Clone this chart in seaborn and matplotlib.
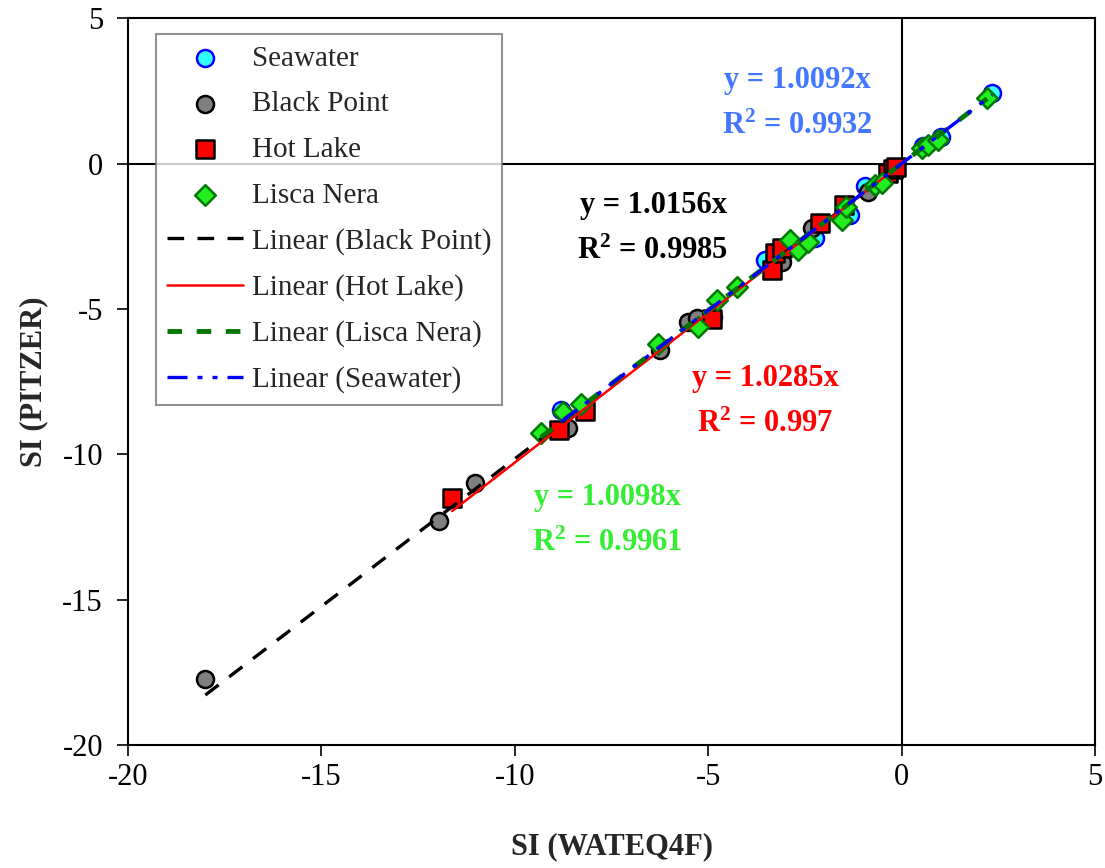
import matplotlib
matplotlib.use("Agg")
import matplotlib.pyplot as plt
import numpy as np
import pandas as pd
import seaborn as sns

# Saturation indices: WATEQ4F (x) vs PITZER (y)
seawater_x = [-8.80, -4.88, -3.53, -2.24, -1.33, -0.95, 0.55, 1.02, 2.34]
seawater_y = [-8.46, -5.28, -3.32, -2.57, -1.77, -0.78, 0.62, 0.91, 2.42]

blackpoint_x = [-18.00, -11.95, -11.03, -8.62, -6.25, -5.52, -5.30, -3.09, -2.32, -0.87]
blackpoint_y = [-17.73, -12.30, -11.00, -9.10, -6.42, -5.45, -5.30, -3.39, -2.22, -0.98]

hotlake_x = [-11.62, -8.85, -8.18, -4.90, -3.35, -3.27, -3.09, -2.11, -1.50, -0.35, -0.22, -0.15]
hotlake_y = [-11.50, -9.15, -8.50, -5.35, -3.67, -3.08, -2.90, -2.05, -1.43, -0.33, -0.20, -0.12]

lisca_x = [-9.33, -8.75, -8.30, -6.30, -5.26, -4.77, -4.26, -2.89, -2.68, -2.42,
           -1.54, -1.45, -0.70, -0.51, 0.53, 0.68, 0.94, 2.21]
lisca_y = [-9.27, -8.55, -8.27, -6.20, -5.63, -4.70, -4.25, -2.63, -2.98, -2.70,
           -1.95, -1.50, -0.75, -0.67, 0.53, 0.63, 0.80, 2.25]

# Trendline slopes (forced through origin) and R²
slopes = {"Black Point": 1.0156, "Hot Lake": 1.0285, "Lisca Nera": 1.0098, "Seawater": 1.0092}
r2 = {"Black Point": "0.9985", "Hot Lake": "0.997", "Lisca Nera": "0.9961", "Seawater": "0.9932"}

x_ticks = [-20, -15, -10, -5, 0, 5]
y_ticks = [-20, -15, -10, -5, 0, 5]

sns.set_theme(style="white")
plt.rcParams["font.family"] = ["Liberation Serif", "DejaVu Serif"]
plt.rcParams["axes.unicode_minus"] = False
plt.rcParams["mathtext.fontset"] = "custom"
plt.rcParams["mathtext.rm"] = "Liberation Serif"
plt.rcParams["mathtext.bf"] = "Liberation Serif:bold"

fig = plt.figure(figsize=(11.05, 8.68), dpi=100)
ax = fig.add_axes([0.1158, 0.1417, 0.991 - 0.1158, 0.979 - 0.1417])

series = [
    ("Seawater", seawater_x, seawater_y, "o", "#33ffff", "#0000ff"),
    ("Black Point", blackpoint_x, blackpoint_y, "o", "#808080", "#000000"),
    ("Hot Lake", hotlake_x, hotlake_y, "s", "#ff0000", "#000000"),
    ("Lisca Nera", lisca_x, lisca_y, "D", "#22ee22", "#007700"),
]

for name, xs, ys, mk, fc, ec in series:
    df = pd.DataFrame({"x": xs, "y": ys})
    size = 150 if mk != "D" else 110
    sns.scatterplot(data=df, x="x", y="y", marker=mk, s=size, color=fc,
                    edgecolor=ec, linewidth=1.8, ax=ax, label=name, zorder=3)

# Fitted lines y = a*x over each series' data range
fit_styles = [
    ("Black Point", blackpoint_x, dict(color="black", lw=2.4, dashes=(5, 4))),
    ("Hot Lake", hotlake_x, dict(color="#ff0000", lw=1.8)),
    ("Lisca Nera", lisca_x, dict(color="#007700", lw=3.5, dashes=(3, 3))),
    ("Seawater", seawater_x, dict(color="#0000ff", lw=2.4, dashes=(6, 3, 1.5, 3, 1.5, 3))),
]
for name, xs, style in fit_styles:
    xr = np.array([min(xs), max(xs)])
    line_df = pd.DataFrame({"x": xr, "y": slopes[name] * xr})
    dashes = style.pop("dashes", None)
    sns.lineplot(data=line_df, x="x", y="y", ax=ax, label=f"Linear ({name})",
                 zorder=4, **style)
    if dashes is not None:
        ax.lines[-1].set_dashes(dashes)

ax.axhline(0, color="black", lw=1.5, zorder=1)
ax.axvline(0, color="black", lw=1.5, zorder=1)

ax.set_xlim(-20, 5)
ax.set_ylim(-20, 5)
ax.set_xticks(x_ticks)
ax.set_yticks(y_ticks)
ax.tick_params(direction="out", length=8, width=1.2, colors="black",
               labelsize=22, bottom=True, left=True, pad=10)
ax.tick_params(axis="x", pad=5)
for sp in ax.spines.values():
    sp.set_color("black")
    sp.set_linewidth(1.5)

ax.set_xlabel("SI (WATEQ4F)", fontsize=22, fontweight="bold", labelpad=29)
ax.set_ylabel("SI (PITZER)", fontsize=22, fontweight="bold", labelpad=10)

# Regression annotations
ann = [
    ("Seawater", "#4477ff", 797, 80),
    ("Black Point", "black", 653, 205),
    ("Hot Lake", "#ff0000", 765, 378),
    ("Lisca Nera", "#33ee33", 607, 497),
]
for name, col, px, py in ann:
    fx = (px - 128) / (1095 - 128)
    fy = 1 - (py - 18) / (745 - 18)
    ax.text(fx, fy, f"y = {slopes[name]:.4f}x",
            transform=ax.transAxes, ha="center", va="center",
            fontsize=22, fontweight="bold", color=col, zorder=6)
    ax.text(fx, fy - 46 / 727, r"$\mathbf{R^2}$" + f" = {r2[name]}",
            transform=ax.transAxes, ha="center", va="center",
            fontsize=22, fontweight="bold", color=col, zorder=6)

handles, labels = ax.get_legend_handles_labels()
leg = ax.legend(handles, labels, loc="upper left", bbox_to_anchor=(0.029, 0.978),
                fontsize=21, frameon=True, fancybox=False, edgecolor="#777777",
                handlelength=2.6, handletextpad=0.3, labelspacing=0.66,
                borderpad=0.38, borderaxespad=0)
leg.get_frame().set_linewidth(1.5)
leg.set_zorder(7)

fig.savefig("out.png", dpi=100)
